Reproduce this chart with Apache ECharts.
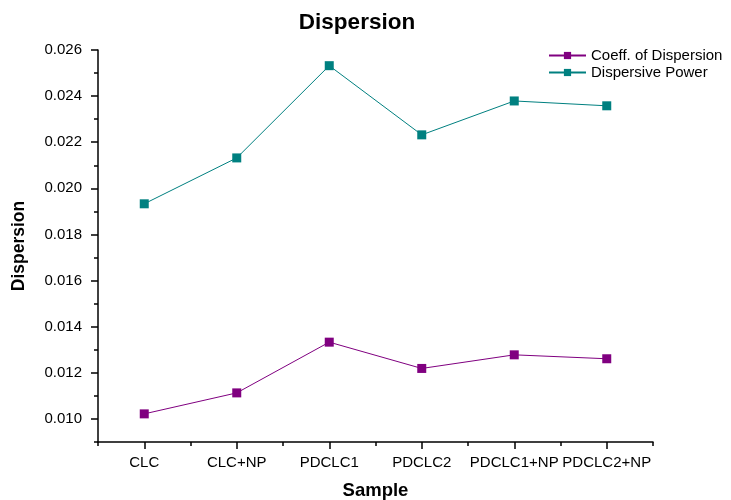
<!DOCTYPE html>
<html>
<head>
<meta charset="utf-8">
<script src="https://cdn.jsdelivr.net/npm/echarts@6/dist/echarts.min.js"></script>
<style>html,body{margin:0;padding:0;background:#fff}#c{width:731px;height:500px}</style>
</head>
<body>
<div id="c"></div>
<script>
var categories = ['CLC', 'CLC+NP', 'PDCLC1', 'PDCLC2', 'PDCLC1+NP', 'PDCLC2+NP'];
var coeffDispersion = [0.01022, 0.01113, 0.01333, 0.01219, 0.01278, 0.01261];
var dispersivePower = [0.01933, 0.02132, 0.02532, 0.02232, 0.02379, 0.02358];
var majorTicks = [0.010, 0.012, 0.014, 0.016, 0.018, 0.020, 0.022, 0.024, 0.026];
var minorTicks = [0.009, 0.011, 0.013, 0.015, 0.017, 0.019, 0.021, 0.023, 0.025];
var yMin = 0.009, yMax = 0.026;

var FONT = 'Liberation Sans, Arial, sans-serif';
var chart = echarts.init(document.getElementById('c'), null, {renderer: 'canvas'});
chart.setOption({
  animation: false,
  backgroundColor: '#fff',
  title: {
    text: 'Dispersion', left: 352, top: 6, textAlign: 'center',
    textStyle: {fontFamily: FONT, fontSize: 22.5, fontWeight: 'bold', color: '#000'}
  },
  legend: {
    orient: 'vertical', left: 548, top: 48, padding: 0, itemGap: 2, itemWidth: 37, itemHeight: 9,
    textStyle: {fontFamily: FONT, fontSize: 15, color: '#000'},
    data: ['Coeff. of Dispersion', 'Dispersive Power']
  },
  grid: {left: 98, right: 78, top: 50, bottom: 58, containLabel: false, outerBoundsMode: 'none'},
  xAxis: [{
    type: 'category', data: categories, boundaryGap: true,
    name: 'Sample', nameLocation: 'middle', nameGap: 39,
    nameTextStyle: {fontFamily: FONT, fontSize: 18.5, fontWeight: 'bold', color: '#000'},
    axisLine: {show: true, lineStyle: {color: '#000', width: 1.5}},
    axisTick: {show: true, interval: 0, alignWithLabel: true, length: 7, lineStyle: {color: '#000', width: 1.5}},
    axisLabel: {interval: 0, hideOverlap: false, margin: 13, fontFamily: FONT, fontSize: 15, color: '#000'},
    splitLine: {show: false}
  }, {
    type: 'category', data: categories, boundaryGap: true, position: 'bottom',
    axisLine: {show: false},
    axisTick: {show: true, interval: 0, length: 4, lineStyle: {color: '#000', width: 1.5}},
    axisLabel: {show: false},
    splitLine: {show: false}
  }],
  yAxis: [{
    type: 'value', min: yMin, max: yMax,
    name: 'Dispersion', nameLocation: 'middle', nameGap: 70, nameRotate: 90,
    nameTextStyle: {fontFamily: FONT, fontSize: 17.5, fontWeight: 'bold', color: '#000'},
    axisLine: {show: true, lineStyle: {color: '#000', width: 1.5}},
    axisTick: {show: true, length: 7, customValues: majorTicks, lineStyle: {color: '#000', width: 1.5}},
    axisLabel: {customValues: majorTicks, margin: 16, fontFamily: FONT, fontSize: 15, color: '#000',
      formatter: function (v) { return v.toFixed(3); }},
    splitLine: {show: false}
  }, {
    type: 'value', min: yMin, max: yMax, position: 'left',
    axisLine: {show: false},
    axisTick: {show: true, length: 4, customValues: minorTicks, lineStyle: {color: '#000', width: 1.5}},
    axisLabel: {show: false},
    splitLine: {show: false}
  }],
  series: [{
    name: 'Coeff. of Dispersion', type: 'line', data: coeffDispersion,
    symbol: 'rect', symbolSize: 9, color: '#800080',
    lineStyle: {width: 1, color: '#800080'}, itemStyle: {color: '#800080'}
  }, {
    name: 'Dispersive Power', type: 'line', data: dispersivePower,
    symbol: 'rect', symbolSize: 9, color: '#008080',
    lineStyle: {width: 1, color: '#008080'}, itemStyle: {color: '#008080'}
  }]
});
</script>
</body>
</html>
